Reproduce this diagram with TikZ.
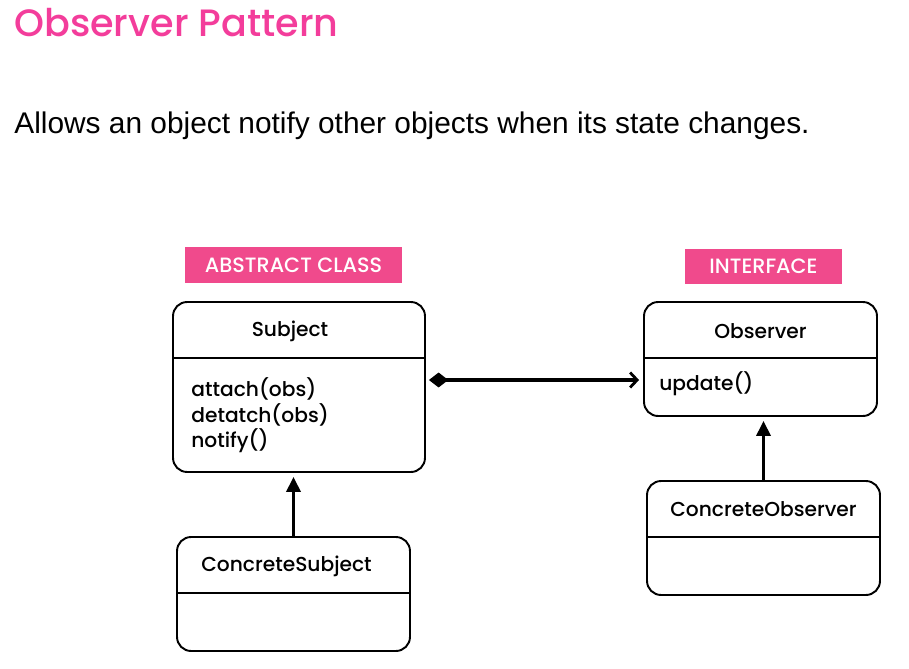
\documentclass[tikz,border=0pt]{standalone}
\usepackage{fontspec}
\setmainfont{Poppins Medium}
\newfontfamily\titlefont{Poppins Medium}
\newfontfamily\arialfont{Liberation Sans}
\usetikzlibrary{arrows.meta,positioning,calc}
\definecolor{titlepink}{RGB}{243,61,155}
\definecolor{tagpink}{RGB}{240,74,140}

\begin{document}
\begin{tikzpicture}[
  x=0.02cm,y=-0.02cm,
  font=\fontsize{11.5}{14.7}\selectfont,
  cls/.style={draw,line width=1.1pt,rounded corners=8pt,minimum width=4.66cm,minimum height=2.28cm,inner sep=0pt},
  tag/.style={fill=tagpink,text=white,minimum height=0.71cm,inner sep=0pt,font=\titlefont\fontsize{11.8}{14}\selectfont},
  inherit/.style={-{Triangle[length=8.5pt,width=8pt]},line width=1.8pt},
  assoc/.style={{Diamond[length=11pt,width=8.5pt]}-{Straight Barb[length=4pt,width=8.5pt,line width=1.6pt]},line width=1.9pt}
]
\useasboundingbox (0,0) rectangle (909,669);

% ---- heading ----
\node[anchor=base west,inner sep=0pt,text=titlepink,font=\titlefont\fontsize{21.7}{27}\selectfont] (title) at (14,37) {Observer Pattern};
\node[anchor=base west,inner sep=0pt,font=\arialfont\fontsize{17}{20}\selectfont] (intro) at (14,133) {Allows an object notify other objects when its state changes.};

% ---- subject side (left) ----
\node[tag,minimum width=4.34cm] (abs) at (293.5,265) {ABSTRACT CLASS};
\node[cls,minimum width=5.04cm,minimum height=3.4cm] (subj) at (299,387) {};
\draw[line width=1.1pt] ([yshift=-1.14cm]subj.north west) -- ([yshift=-1.14cm]subj.north east);
\node (subjname) at ($(subj.north)+(-9,30)$) {Subject};
\node[anchor=north west,align=left,inner sep=0pt] (subjops) at (191,377) {attach(obs)\\ detatch(obs)\\ notify()};

\node[cls] (csubj) at (293.5,594) {};
\draw[line width=1.1pt] ([yshift=-1.14cm]csubj.north west) -- ([yshift=-1.14cm]csubj.north east);
\node (csubjname) at ($(csubj.north)+(-7,30)$) {ConcreteSubject};

% ---- observer side (right) ----
\node[tag,minimum width=3.14cm] (iface) at (763.5,266.5) {INTERFACE};
\node[cls] (obs) at (760.5,359) {};
\draw[line width=1.1pt] ([yshift=-1.14cm]obs.north west) -- ([yshift=-1.14cm]obs.north east);
\node (obsname) at ($(obs.north)+(0,30)$) {Observer};
\node[anchor=west,inner sep=0pt] (obsops) at (659,384) {update()};

\node[cls] (cobs) at (763.5,538) {};
\draw[line width=1.1pt] ([yshift=-1.14cm]cobs.north west) -- ([yshift=-1.14cm]cobs.north east);
\node (cobsname) at ($(cobs.north)+(0,29)$) {ConcreteObserver};

% ---- relations ----
\draw[inherit,shorten >=0.08cm] (csubj.north) -- (csubj.north |- subj.south);
\draw[inherit,shorten >=0.08cm] (cobs.north) -- (cobs.north |- obs.south);
\draw[assoc,shorten <=0.06cm,shorten >=0.08cm] ([yshift=0.14cm]subj.east) -- ([yshift=0.14cm]subj.east -| obs.west);
\end{tikzpicture}
\end{document}
